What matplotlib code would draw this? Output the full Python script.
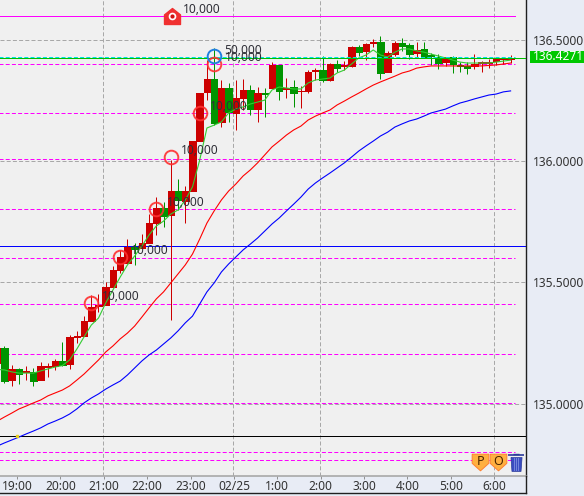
import numpy as np
import matplotlib
matplotlib.use('Agg')
import matplotlib.pyplot as plt
from matplotlib.lines import Line2D
from matplotlib.patches import Rectangle

plt.rcParams['font.family'] = ['Noto Sans', 'DejaVu Sans']
plt.rcParams['font.size'] = 8.6

# 10 minute candles, first one is cut by the left edge
opens = [135.168, 135.230, 135.097, 135.143, 135.131, 135.131, 135.097, 135.151, 135.155, 135.176,
         135.164, 135.275, 135.279, 135.341, 135.403, 135.407, 135.481, 135.551, 135.580, 135.646,
         135.642, 135.663, 135.745, 135.807, 135.778, 135.877, 135.836, 135.877, 136.083, 136.286,
         136.339, 136.162, 136.302, 136.199, 136.261, 136.294, 136.215, 136.281, 136.302, 136.397,
         136.298, 136.306, 136.288, 136.290, 136.372, 136.376, 136.335, 136.401, 136.393, 136.393,
         136.471, 136.455, 136.488, 136.492, 136.368, 136.442, 136.488, 136.479, 136.446, 136.463,
         136.438, 136.430, 136.409, 136.430, 136.397, 136.393, 136.393, 136.406, 136.407, 136.413,
         136.422, 136.422]
highs = [135.238, 135.238, 135.159, 135.147, 135.155, 135.147, 135.172, 135.168, 135.184, 135.254,
         135.283, 135.300, 135.361, 135.448, 135.452, 135.502, 135.568, 135.634, 135.679, 135.663,
         135.700, 135.782, 135.852, 135.832, 136.005, 135.927, 135.898, 136.083, 136.281, 136.417,
         136.467, 136.335, 136.323, 136.335, 136.339, 136.314, 136.306, 136.302, 136.409, 136.397,
         136.343, 136.335, 136.310, 136.376, 136.384, 136.434, 136.405, 136.417, 136.413, 136.475,
         136.479, 136.488, 136.504, 136.516, 136.455, 136.496, 136.508, 136.488, 136.492, 136.492,
         136.446, 136.442, 136.430, 136.434, 136.409, 136.409, 136.442, 136.413, 136.422, 136.422,
         136.430, 136.438]
lows = [135.159, 135.085, 135.073, 135.081, 135.097, 135.073, 135.097, 135.110, 135.139, 135.155,
        135.143, 135.250, 135.279, 135.341, 135.378, 135.407, 135.481, 135.539, 135.580, 135.572,
        135.642, 135.663, 135.696, 135.729, 135.345, 135.799, 135.745, 135.877, 136.083, 136.252,
        136.149, 136.141, 136.162, 136.129, 136.211, 136.191, 136.162, 136.182, 136.302, 136.252,
        136.261, 136.224, 136.220, 136.281, 136.335, 136.327, 136.331, 136.368, 136.376, 136.389,
        136.434, 136.417, 136.471, 136.339, 136.368, 136.434, 136.455, 136.422, 136.426, 136.426,
        136.397, 136.380, 136.393, 136.364, 136.368, 136.360, 136.380, 136.368, 136.384, 136.397,
        136.401, 136.405]
closes = [135.230, 135.093, 135.143, 135.122, 135.135, 135.093, 135.155, 135.155, 135.176, 135.159,
          135.275, 135.279, 135.341, 135.399, 135.407, 135.481, 135.551, 135.605, 135.646, 135.638,
          135.663, 135.745, 135.807, 135.774, 135.877, 135.840, 135.877, 136.083, 136.281, 136.339,
          136.158, 136.302, 136.203, 136.261, 136.294, 136.215, 136.281, 136.277, 136.397, 136.290,
          136.302, 136.281, 136.290, 136.368, 136.376, 136.335, 136.401, 136.384, 136.395, 136.471,
          136.450, 136.484, 136.492, 136.364, 136.446, 136.488, 136.475, 136.442, 136.459, 136.430,
          136.434, 136.405, 136.430, 136.401, 136.393, 136.384, 136.401, 136.409, 136.409, 136.422,
          136.426, 136.427]

ma_green = [135.141, 135.139, 135.131, 135.126, 135.126, 135.126, 135.135, 135.143, 135.151, 135.157,
            135.180, 135.225, 135.275, 135.324, 135.353, 135.415, 135.469, 135.522, 135.572, 135.609,
            135.650, 135.696, 135.733, 135.753, 135.782, 135.799, 135.840, 135.894, 136.005, 136.137,
            136.149, 136.162, 136.199, 136.215, 136.224, 136.236, 136.244, 136.252, 136.294, 136.306,
            136.302, 136.298, 136.298, 136.323, 136.335, 136.339, 136.343, 136.364, 136.376, 136.401,
            136.426, 136.438, 136.459, 136.438, 136.430, 136.450, 136.463, 136.463, 136.455, 136.450,
            136.442, 136.434, 136.426, 136.417, 136.409, 136.405, 136.405, 136.405, 136.405, 136.409,
            136.413, 136.417]
ma_red = [134.928, 134.945, 134.961, 134.978, 134.990, 135.003, 135.015, 135.032, 135.044, 135.056,
          135.073, 135.097, 135.122, 135.151, 135.180, 135.213, 135.238, 135.267, 135.291, 135.320,
          135.357, 135.395, 135.432, 135.461, 135.498, 135.535, 135.572, 135.617, 135.679, 135.745,
          135.795, 135.840, 135.877, 135.906, 135.939, 135.964, 135.993, 136.026, 136.059, 136.083,
          136.108, 136.129, 136.145, 136.170, 136.186, 136.199, 136.211, 136.232, 136.248, 136.265,
          136.281, 136.298, 136.314, 136.327, 136.339, 136.351, 136.364, 136.372, 136.384, 136.389,
          136.393, 136.393, 136.393, 136.393, 136.393, 136.393, 136.393, 136.393, 136.395, 136.397,
          136.401, 136.405]
ma_blue = [134.825, 134.838, 134.850, 134.862, 134.875, 134.887, 134.900, 134.916, 134.928, 134.941,
           134.957, 134.978, 135.003, 135.023, 135.040, 135.060, 135.077, 135.093, 135.118, 135.147,
           135.176, 135.201, 135.221, 135.246, 135.271, 135.300, 135.333, 135.361, 135.411, 135.461,
           135.498, 135.543, 135.576, 135.605, 135.634, 135.658, 135.683, 135.712, 135.741, 135.766,
           135.795, 135.823, 135.852, 135.885, 135.910, 135.931, 135.951, 135.972, 135.993, 136.017,
           136.042, 136.063, 136.083, 136.104, 136.120, 136.141, 136.154, 136.166, 136.174, 136.186,
           136.199, 136.207, 136.215, 136.228, 136.240, 136.248, 136.257, 136.265, 136.273, 136.277,
           136.286, 136.290]

time_labels = ['19:00', '20:00', '21:00', '22:00', '23:00', '02/25', '1:00', '2:00', '3:00', '4:00', '5:00', '6:00']
time_ticks = [1.73 + 6 * k for k in range(12)]
grid_times = [13.62, 31.6, 43.65, 67.7]

price_ticks = [135.0, 135.5, 136.0, 136.5]
price_labels = ['135.0000', '135.5000', '136.0000', '136.5000']
last_price = 136.4271

order_levels = [136.401, 136.199, 136.009, 135.803, 135.601, 135.411, 135.205, 135.003, 134.801, 134.767]
top_level = 136.599
blue_level = 135.651
black_level = 134.867

# position entries: candle index, price, size label
red_rings = [(12, 135.415), (16, 135.605), (21, 135.803), (23, 136.017), (27, 136.199), (29, 136.401)]
blue_ring = (29, 136.434)

RED = '#cc0000'
GREEN = '#009400'
BG = '#f0f0f0'
PANEL = '#e8ecf5'
PX = 0.72  # one pixel in points
DASH = (0, (4, 2.2))

fig = plt.figure(figsize=(5.84, 4.96), dpi=100, facecolor=PANEL)
ax = fig.add_axes([0, 20 / 496, 526 / 584, 476 / 496], facecolor=BG)

idx = np.arange(-1, 71)
opens, highs, lows, closes = map(np.array, (opens, highs, lows, closes))
up = closes >= opens
colors = [RED if u else GREEN for u in up]

# grid
for p in price_ticks:
    ax.axhline(p, color='#a8a8a8', lw=PX, ls=DASH, zorder=1)
for t in grid_times:
    ax.axvline(t, color='#a8a8a8', lw=PX, ls=DASH, zorder=1)

# order lines
for p in order_levels:
    ax.plot([-1, 70.6], [p, p], color='#ff00ff', lw=PX, ls=DASH, zorder=2)
ax.plot([-1, 70.6], [top_level, top_level], color='#ff00ff', lw=PX, zorder=2)
ax.axhline(blue_level, color='#0000ff', lw=PX, zorder=2)
ax.axhline(black_level, color='black', lw=PX, zorder=2)
ax.plot([1.73], [black_level], marker='s', ms=1.5, color='#e8d020', zorder=6)

# candles
ax.vlines(idx, lows, highs, colors=colors, lw=PX, zorder=3, snap=True)
ax.bar(idx, np.abs(closes - opens), bottom=np.minimum(opens, closes), width=0.9, color=colors,
       edgecolor=colors, lw=0.4, zorder=3, antialiased=False)

# moving averages
ax.plot(idx, ma_blue, color='#0000ff', lw=0.8, zorder=4)
ax.plot(idx, ma_red, color='#ff0000', lw=0.8, zorder=4)
ax.plot(idx, ma_green, color='#33cc33', lw=0.8, zorder=4)

# current price lines
ax.plot([-1, 70.6], [last_price + 0.004, last_price + 0.004], color='#00e0e0', lw=PX, ls=DASH, zorder=5)
ax.axhline(last_price, color='#00c000', lw=PX, zorder=5)

# entry markers
for x, y in red_rings:
    ax.plot([x], [y], marker='o', ms=9.8, mfc='none', mec='#ff3030', mew=1.4, alpha=0.9, zorder=6)
    ax.annotate('10,000', (x, y), xytext=(7.5, 4.7), textcoords='offset points', va='center', color='#303038', zorder=7)
ax.plot([blue_ring[0]], [blue_ring[1]], marker='o', ms=9.8, mfc='none', mec='#2080e0', mew=1.4, zorder=6)
ax.annotate('50,000', blue_ring, xytext=(7.5, 4.3), textcoords='offset points', va='center', color='#303038', zorder=7)

# house icon on the top line
house = [(-1, -1), (-1, 0.2), (0, 1), (1, 0.2), (1, -1), (-1, -1)]
ax.plot([23.17], [top_level], marker=house, ms=11.5, color='#f03030', mec='#f03030', zorder=6)
ax.plot([23.17], [top_level], marker='o', ms=4.5, color='white', mec='white', zorder=7)
ax.plot([23.17], [top_level], marker='o', ms=2, color='#d01010', mec='#d01010', zorder=8)
ax.annotate('10,000', (23.17, top_level), xytext=(7.5, 4.7), textcoords='offset points', va='center',
            color='#303038', zorder=7)

# P / O badges and trash can
badge = [(-1, 1), (1, 1), (1, -0.1), (0, -1), (-1, -0.1), (-1, 1)]
for x, s in [(65.8, 'P'), (68.26, 'O')]:
    ax.plot([x], [134.759], marker=badge, ms=12, color='#ffb040', mec='#ff8030', mew=0.7, zorder=6)
    ax.text(x, 134.763, s, ha='center', va='center', fontsize=9, fontweight='bold', color='#4a2400', zorder=7)
can = [(-0.8, 1), (0.8, 1), (0.65, -1), (-0.65, -1), (-0.8, 1)]
ax.plot([70.75], [134.752], marker=can, ms=10, color='#3a4cc0', mec='#2a3a9a', mew=0.5, zorder=6)
ax.plot([70.75], [134.787], marker='_', ms=11.5, color='#2a3a9a', mew=1.2, zorder=6)
ax.plot([70.75], [134.794], marker='_', ms=5, color='#2a3a9a', mew=1.0, zorder=6)
for dx in (-0.3, 0, 0.3):
    ax.plot([70.75 + dx] * 2, [134.727, 134.776], color='#8090e0', lw=0.6, zorder=7)

# axes
ax.set_xlim(-0.622, 72.13)
ax.set_ylim(134.7015, 136.665)
ax.set_xticks(time_ticks)
ax.set_xticklabels(time_labels, color='#333333')
ax.yaxis.tick_right()
ax.set_yticks(price_ticks)
ax.set_yticklabels(price_labels, color='#333333')
ax.tick_params(axis='x', length=2, width=0.7, color='#909090', pad=1)
ax.tick_params(axis='y', length=0, pad=5)
for side in ('top', 'left'):
    ax.spines[side].set_visible(False)
ax.spines['bottom'].set_color('#a8a8a8')
ax.spines['bottom'].set_linewidth(1.2)
ax.spines['right'].set_color('#202020')
ax.spines['right'].set_linewidth(1.0)

# last price tag
tf = ax.get_yaxis_transform()
ax.add_patch(Rectangle((1.0076, 136.405), 0.1027, 0.05, transform=tf, clip_on=False, facecolor='#00c800',
                       edgecolor='none', zorder=5))
ax.text(1.0135, last_price + 0.003, f'{last_price:.4f}', transform=tf, va='center', color='white', clip_on=False, zorder=6)

# frame of the time strip
fig.add_artist(Line2D([0, 526 / 584], [3 / 496, 3 / 496], color='#202020', lw=1.0))
fig.add_artist(Line2D([526 / 584, 526 / 584], [3 / 496, 20 / 496], color='#202020', lw=1.0))

fig.savefig('out.png', dpi=100, facecolor=fig.get_facecolor())
